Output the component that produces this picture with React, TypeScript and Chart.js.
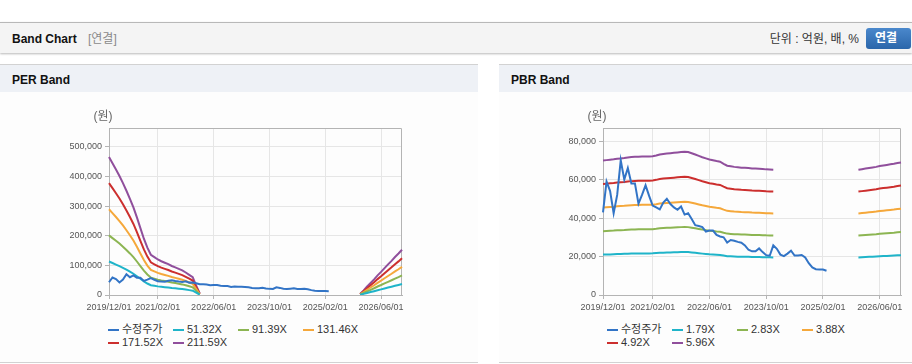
import React, { useEffect, useRef } from 'react';
import { Chart, registerables } from 'chart.js';

Chart.register(...registerables);

// ---------- data ----------
const CATEGORIES = [
  '2019/12/01',
  '2020/01/01', '2020/02/01', '2020/03/01', '2020/04/01', '2020/05/01', '2020/06/01',
  '2020/07/01', '2020/08/01', '2020/09/01', '2020/10/01', '2020/11/01', '2020/12/01',
  '2021/01/01', '2021/02/01', '2021/03/01', '2021/04/01', '2021/05/01', '2021/06/01',
  '2021/07/01', '2021/08/01', '2021/09/01', '2021/10/01', '2021/11/01', '2021/12/01',
  '2022/01/01', '2022/02/01', '2022/03/01', '2022/04/01', '2022/05/01', '2022/06/01',
  '2022/07/01', '2022/08/01', '2022/09/01', '2022/10/01', '2022/11/01', '2022/12/01',
  '2023/01/01', '2023/02/01', '2023/03/01', '2023/04/01', '2023/05/01', '2023/06/01',
  '2023/07/01', '2023/08/01', '2023/09/01', '2023/10/01', '2023/11/01', '2023/12/01',
  '2024/01/01', '2024/02/01', '2024/03/01', '2024/04/01', '2024/05/01', '2024/06/01',
  '2024/07/01', '2024/08/01', '2024/09/01', '2024/10/01', '2024/11/01', '2024/12/01',
  '2025/01/01', '2025/02/01', '2025/03/01', '2025/04/01', '2025/05/01', '2025/06/01',
  '2025/07/01', '2025/08/01', '2025/09/01', '2025/10/01', '2025/11/01', '2025/12/01',
  '2026/01/01', '2026/02/01', '2026/03/01', '2026/04/01', '2026/05/01', '2026/06/01',
  '2026/07/01', '2026/08/01', '2026/09/01', '2026/10/01', '2026/11/01', '2026/12/01',
];

const X_TICK_LABELS = ['2019/12/01', '2021/02/01', '2022/06/01', '2023/10/01', '2025/02/01', '2026/06/01'];

const PER_Y_TICKS = [0, 100000, 200000, 300000, 400000, 500000];
const PBR_Y_TICKS = [0, 20000, 40000, 60000, 80000];

const gap = (n: number) => Array(n).fill(null);

// 수정주가 (won), 2019/12 .. 2025/03
const PRICE: (number | null)[] = [
  43000, 59000, 54000, 42500, 52000, 70000, 60000, 66000, 58000, 58000,
  47500, 52000, 57000, 51500, 46500, 45500, 44500, 48000, 50000, 47300,
  45500, 44300, 46000, 41800, 42500, 39500, 36300, 35900, 35300, 33000,
  33500, 33500, 31200, 30400, 30000, 27300, 28600, 28200, 27600, 27200,
  25800, 23500, 22700, 22700, 24200, 22300, 20700, 20400, 25800, 24000,
  21000, 20200, 21500, 23000, 20500, 20500, 20800, 19500, 16500, 14300,
  13400, 13200, 13200, 12600,
  ...gap(21),
];

// EPS used for PER band (won)
const EPS: (number | null)[] = [
  2202, 2103, 2004, 1900, 1786, 1664, 1536, 1399, 1238, 1068,
  898, 756, 643, 605, 567, 539, 515, 492, 463, 440,
  416, 392, 359, 321, 284, 151, 24,
  ...gap(45),
  16, 74, 135, 192, 250, 313, 369, 430, 488, 545, 606, 662, 723,
];

// BPS used for PBR band (won)
const BPS: (number | null)[] = [
  11728, 11762, 11795, 11829, 11879, 11913, 11946, 11997, 12030, 12047,
  12064, 12081, 12081, 12081, 12097, 12164, 12248, 12299, 12332, 12366,
  12399, 12433, 12466, 12500, 12466, 12366, 12248, 12131, 12013, 11913,
  11812, 11745, 11678, 11628, 11443, 11275, 11225, 11174, 11141, 11107,
  11091, 11074, 11040, 11023, 11007, 10990, 10956, 10940, 10923,
  ...gap(23),
  10923, 10973, 11023, 11074, 11124, 11174, 11242, 11292, 11342, 11393, 11443, 11510, 11560,
];

const PER_MULTIPLES = [51.32, 91.39, 131.46, 171.52, 211.59];
const PBR_MULTIPLES = [1.79, 2.83, 3.88, 4.92, 5.96];
const PER_LABELS = ['수정주가', '51.32X', '91.39X', '131.46X', '171.52X', '211.59X'];
const PBR_LABELS = ['수정주가', '1.79X', '2.83X', '3.88X', '4.92X', '5.96X'];

// ---------- styles ----------
const COLORS = ['#3274c6', '#1fb4c9', '#8cb552', '#f5a83b', '#cc2f2e', '#904f9c'];
const FONT = "'Liberation Sans', Arial, 'Noto Sans CJK KR', sans-serif";
const GRID = '#e6e6e6';
const AXIS = '#b4b4b4';

const framePlugin = {
  id: 'frame',
  beforeDatasetsDraw(chart: any) {
    const { ctx, chartArea: a } = chart;
    ctx.save();
    ctx.strokeStyle = AXIS;
    ctx.lineWidth = 1;
    ctx.beginPath();
    const top = Math.round(a.top) + 0.5;
    const right = Math.round(a.right) - 0.5;
    ctx.moveTo(a.left, top);
    ctx.lineTo(right, top);
    ctx.lineTo(right, a.bottom);
    ctx.stroke();
    ctx.restore();
  },
  afterDraw(chart: any) {
    const { ctx, chartArea: a } = chart;
    ctx.save();
    ctx.font = `12px ${FONT}`;
    ctx.fillStyle = '#666';
    ctx.textAlign = 'center';
    ctx.textBaseline = 'middle';
    ctx.fillText('(원)', a.left - 6, a.top - 11);
    ctx.restore();
  },
};

type BandProps = {
  base: (number | null)[];
  multiples: number[];
  labels: string[];
  yMax: number;
  yTicks: number[];
  axisWidth: number;
  padRight: number;
  width: number;
};

const CANVAS_H = 225;

function BandCanvas({ base, multiples, labels, yMax, yTicks, axisWidth, padRight, width }: BandProps) {
  const ref = useRef<HTMLCanvasElement | null>(null);
  useEffect(() => {
    if (!ref.current) return;
    const datasets = [
      { label: labels[0], data: PRICE, borderColor: COLORS[0] },
      ...multiples.map((m, i) => ({
        label: labels[i + 1],
        data: base.map((b) => (b == null ? null : Math.round(b * m))),
        borderColor: COLORS[i + 1],
      })),
    ].map((d) => ({ ...d, borderWidth: 2, pointRadius: 0, tension: 0, fill: false, spanGaps: false }));

    const chart = new Chart(ref.current, {
      type: 'line',
      data: { labels: CATEGORIES, datasets },
      options: {
        animation: false,
        responsive: false,
        maintainAspectRatio: false,
        layout: { padding: { left: 0, right: padRight, top: 35, bottom: 0 } },
        plugins: { legend: { display: false }, tooltip: { enabled: false } },
        scales: {
          x: {
            type: 'category',
            offset: false,
            grid: { color: GRID, tickLength: 4, tickColor: AXIS, offset: false },
            border: { color: AXIS },
            ticks: {
              autoSkip: false,
              maxRotation: 0,
              minRotation: 0,
              padding: 3,
              color: '#555',
              font: { size: 9, family: FONT },
            },
            afterBuildTicks: (s: any) => {
              s.ticks = s.ticks.filter((t: any) => X_TICK_LABELS.includes(CATEGORIES[t.value]));
            },
            afterFit: (s: any) => {
              s.height = 23;
            },
          },
          y: {
            type: 'linear',
            min: 0,
            max: yMax,
            grid: { color: GRID, tickLength: 4, tickColor: AXIS },
            border: { color: AXIS },
            ticks: {
              autoSkip: false,
              padding: 3,
              color: '#555',
              font: { size: 9, family: FONT },
              callback: (v: any) => Number(v).toLocaleString('en-US'),
            },
            afterBuildTicks: (s: any) => {
              s.ticks = yTicks.map((v) => ({ value: v }));
            },
            afterFit: (s: any) => {
              s.width = axisWidth;
            },
          },
        },
      },
      plugins: [framePlugin],
    } as any);
    return () => chart.destroy();
  }, []);
  return <canvas ref={ref} width={width} height={CANVAS_H} style={{ display: 'block' }} />;
}

function Legend({ labels, left }: { labels: string[]; left: number }) {
  return (
    <div
      style={{
        position: 'absolute',
        left,
        top: 323,
        display: 'grid',
        gridTemplateColumns: 'repeat(4, 65px)',
        fontFamily: FONT,
        fontSize: 11,
        lineHeight: '13.3px',
        color: '#333',
      }}
    >
      {labels.map((l, i) => (
        <div key={l} style={{ display: 'flex', alignItems: 'center', whiteSpace: 'nowrap' }}>
          <span style={{ display: 'inline-block', width: 11, height: 2, background: COLORS[i], marginRight: 3 }} />
          <span>{l}</span>
        </div>
      ))}
    </div>
  );
}

function Panel({ left, width, title, children }: { left: number; width: number; title: string; children: any }) {
  return (
    <div
      style={{
        position: 'absolute',
        left,
        top: 64,
        width,
        height: 299,
        boxSizing: 'border-box',
        borderTop: '1px solid #d2d2d2',
        borderBottom: '1px solid #d2d2d2',
        background: '#fdfdfd',
      }}
    >
      <div style={{ position: 'absolute', left: 0, top: 0, width: '100%', height: 27, background: '#eef1f6' }} />
      <div
        style={{
          position: 'absolute',
          left: 12,
          top: 8,
          fontFamily: FONT,
          fontWeight: 'bold',
          fontSize: 12,
          lineHeight: '14px',
          color: '#111',
        }}
      >
        {title}
      </div>
      <div style={{ position: 'absolute', left: 0, top: 28 }}>{children}</div>
    </div>
  );
}

export default function App() {
  return (
    <div
      style={{
        position: 'absolute',
        left: 0,
        top: 0,
        width: 912,
        height: 364,
        background: '#fff',
        overflow: 'hidden',
        fontFamily: FONT,
      }}
    >
      {/* top header */}
      <div
        style={{
          position: 'absolute',
          left: 0,
          top: 22,
          width: 912,
          height: 31,
          boxSizing: 'border-box',
          borderTop: '1px solid #b8b8b8',
          background: '#f4f4f4',
          boxShadow: '0 1px 2px rgba(0,0,0,0.28)',
        }}
      >
        <span
          style={{
            position: 'absolute',
            left: 12,
            top: 9,
            fontWeight: 'bold',
            fontSize: 12,
            lineHeight: '14px',
            color: '#111',
          }}
        >
          Band Chart
        </span>
        <span style={{ position: 'absolute', left: 88, top: 9, fontSize: 12, lineHeight: '14px', color: '#8a8a8a' }}>
          [연결]
        </span>
        <span
          style={{
            position: 'absolute',
            right: 53,
            top: 9,
            fontSize: 12,
            lineHeight: '14px',
            color: '#333',
            whiteSpace: 'nowrap',
          }}
        >
          단위 : 억원, 배, %
        </span>
        <div
          style={{
            position: 'absolute',
            left: 866,
            top: 5,
            width: 45,
            height: 21,
            borderRadius: 3,
            background: 'linear-gradient(#4a88cc, #2b66aa)',
            color: '#fff',
            fontWeight: 'bold',
            fontSize: 12,
            lineHeight: '21px',
            paddingLeft: 9,
            boxSizing: 'border-box',
          }}
        >
          연결
        </div>
      </div>

      <Panel left={0} width={478} title="PER Band">
        <BandCanvas
          base={EPS}
          multiples={PER_MULTIPLES}
          labels={PER_LABELS}
          yMax={564000}
          yTicks={PER_Y_TICKS}
          axisWidth={109}
          padRight={76}
          width={478}
        />
      </Panel>
      <Legend labels={PER_LABELS} left={108} />

      <Panel left={499} width={413} title="PBR Band">
        <BandCanvas
          base={BPS}
          multiples={PBR_MULTIPLES}
          labels={PBR_LABELS}
          yMax={86800}
          yTicks={PBR_Y_TICKS}
          axisWidth={104}
          padRight={11}
          width={413}
        />
      </Panel>
      <Legend labels={PBR_LABELS} left={607} />
    </div>
  );
}
